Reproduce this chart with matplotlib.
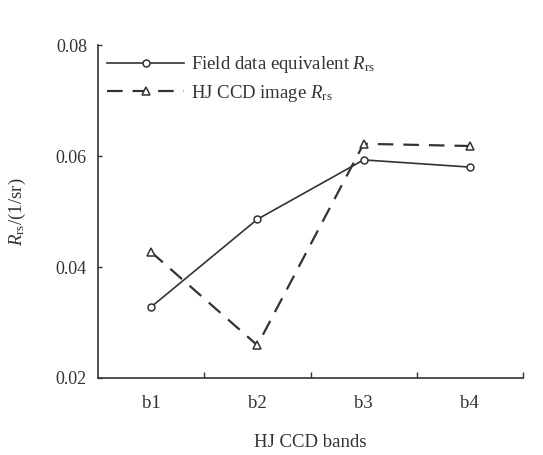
import matplotlib
matplotlib.use("Agg")
import matplotlib.pyplot as plt

bands = ["b1", "b2", "b3", "b4"]
field_rrs = [0.0328, 0.0486, 0.0593, 0.0580]
ccd_rrs = [0.0427, 0.0259, 0.0622, 0.0618]
yticks = [0.02, 0.04, 0.06, 0.08]

plt.rcParams['font.family'] = ['Liberation Serif', 'DejaVu Serif']
plt.rcParams['mathtext.fontset'] = 'custom'
plt.rcParams['mathtext.rm'] = 'Liberation Serif'
plt.rcParams['mathtext.it'] = 'Liberation Serif:italic'

fig = plt.figure(figsize=(5.43, 4.55), dpi=100)
ax = fig.add_axes([98/543, 1-378/455, (523-98)/543, (378-45)/455])

x = list(range(1, len(bands) + 1))
col = '#333333'
ax.plot(x, field_rrs, '-', color=col, lw=1.2, marker='o', ms=5,
        mfc='white', mec=col, mew=1.1, label='Field data equivalent $R_{\\mathrm{rs}}$')
ax.plot(x, ccd_rrs, '--', color=col, lw=1.6, dashes=(7, 4.5), marker='^', ms=6,
        mfc='white', mec=col, mew=1.1, label='HJ CCD image $R_{\\mathrm{rs}}$')

ax.set_xlim(0.5, 4.5)
ax.set_ylim(0.02, 0.08)
ax.set_xticks(x)
ax.set_xticklabels(bands)
ax.set_xticks([1.5, 2.5, 3.5, 4.5], minor=True)
ax.tick_params(axis='x', which='major', length=0, pad=12, labelsize=13.5, colors=col)
ax.tick_params(axis='x', which='minor', direction='in', length=4, width=1, color=col)
ax.set_yticks(yticks)
ax.set_yticklabels([f"{v:.2f}" for v in yticks])
ax.tick_params(axis='y', direction='in', length=3, width=1, labelsize=13, pad=8, colors=col)

for s in ['top', 'right']:
    ax.spines[s].set_visible(False)
for s in ['left', 'bottom']:
    ax.spines[s].set_linewidth(1.2)
    ax.spines[s].set_color(col)

ax.set_xlabel('HJ CCD bands', fontsize=13.5, labelpad=16, color=col)
ax.set_ylabel('$R_{\\mathrm{rs}}$/(1/sr)', fontsize=13.5, labelpad=20, color=col)

leg = ax.legend(loc='upper left', frameon=False, fontsize=13.5, handlelength=4.1,
                handletextpad=0.35, borderaxespad=0.1, labelspacing=0.4,
                bbox_to_anchor=(0.0, 1.0))
for t in leg.get_texts():
    t.set_color(col)

fig.savefig('out.png', dpi=100, facecolor='white')
